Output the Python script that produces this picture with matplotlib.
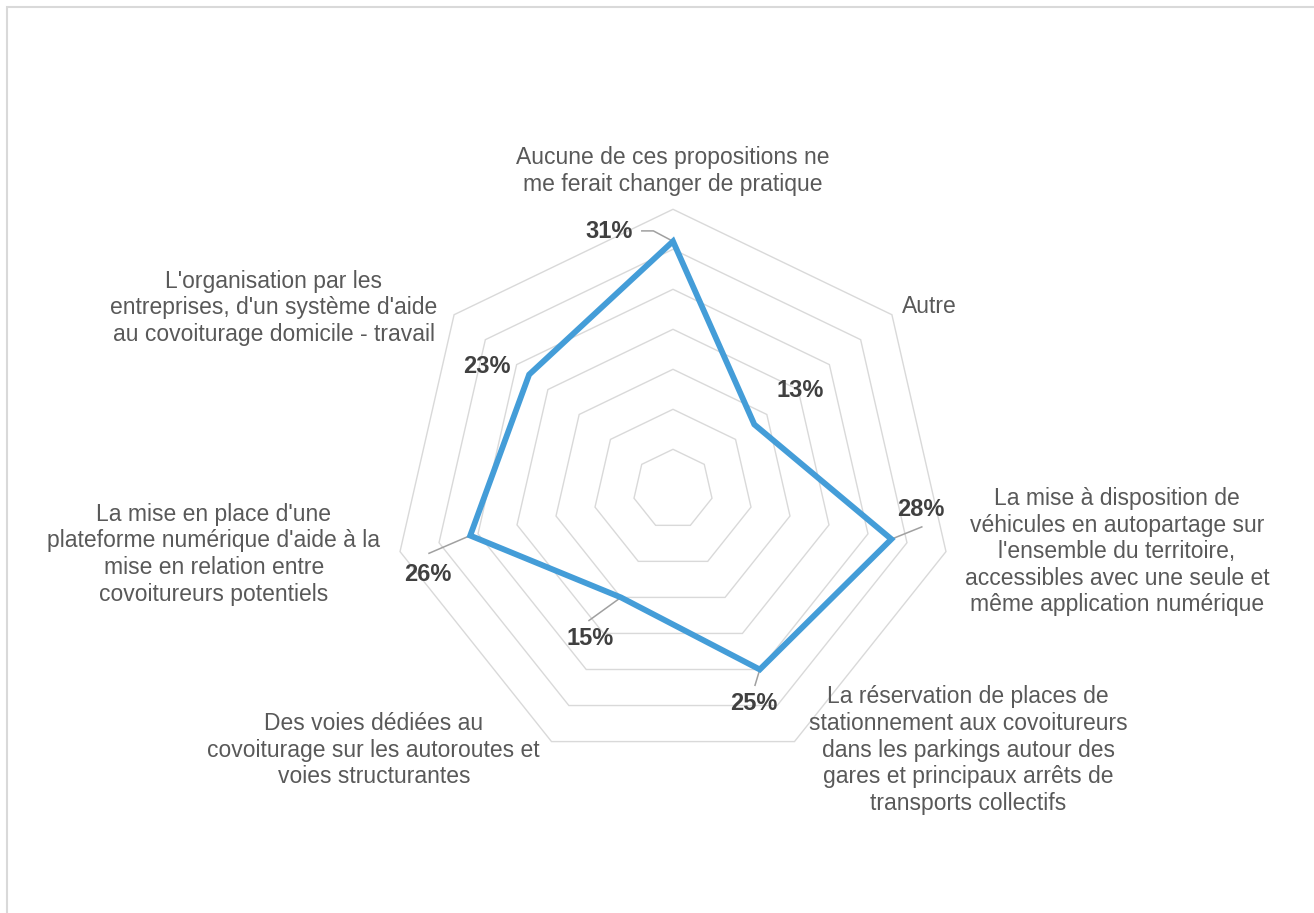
import numpy as np
import matplotlib

matplotlib.use("Agg")
import matplotlib.pyplot as plt
from matplotlib.patches import Polygon, Rectangle

plt.rcParams["font.family"] = ["Liberation Sans", "DejaVu Sans"]

# survey answers, clockwise from the top
categories = [
    "Aucune de ces propositions ne\nme ferait changer de pratique",
    "Autre",
    "La mise à disposition de\nvéhicules en autopartage sur\nl'ensemble du territoire,\naccessibles avec une seule et\nmême application numérique",
    "La réservation de places de\nstationnement aux covoitureurs\ndans les parkings autour des\ngares et principaux arrêts de\ntransports collectifs",
    "Des voies dédiées au\ncovoiturage sur les autoroutes et\nvoies structurantes",
    "La mise en place d'une\nplateforme numérique d'aide à la\nmise en relation entre\ncovoitureurs potentiels",
    "L'organisation par les\nentreprises, d'un système d'aide\nau covoiturage domicile - travail",
]
values = [31, 13, 28, 25, 15, 26, 23]
rings = [5, 10, 15, 20, 25, 30, 35]

# layout (in % units, 1 % = 8 px, origin at the radar centre)
cat_pos = [(0, 39.8), (32, 22.8), (55.5, -7.8), (36.9, -32.6),
           (-37.4, -32.6), (-57.4, -8.1), (-49.9, 22.7)]
val_pos = [(-8, 32.2), (15.9, 12.3), (31, -2.5), (10.1, -26.8),
           (-10.4, -18.6), (-30.6, -10.7), (-23.3, 15.3)]
# leader lines: points leading from label to the marker (None = no leader)
leaders = [[(-3.9, 32.3), (-2.45, 32.3)], None, [(31.1, -4.7)], [(10.25, -24.5)],
           [(-10.5, -16.4)], [(-30.5, -8.0)], None]

W, H = 1314, 913
CX, CY = 673, 489.3
SCALE = 8.0

fig = plt.figure(figsize=(W / 100, H / 100), dpi=100)
ax = fig.add_axes([0, 0, 1, 1])
ax.set_xlim(-CX / SCALE, (W - CX) / SCALE)
ax.set_ylim(-(H - CY) / SCALE, CY / SCALE)
ax.axis("off")

n = len(categories)
ang = np.arange(n) * 2 * np.pi / n
sx, sy = np.sin(ang), np.cos(ang)

for r in rings:
    ax.add_patch(Polygon(np.column_stack([r * sx, r * sy]), closed=True,
                         fill=False, edgecolor="#d9d9d9", lw=1.0, zorder=1))

v = np.array(values, dtype=float)
ax.add_patch(Polygon(np.column_stack([v * sx, v * sy]), closed=True, fill=False,
                     edgecolor="#449dd8", lw=4.2, joinstyle="miter", zorder=3))

for i, lab in enumerate(categories):
    ax.text(*cat_pos[i], lab, ha="center", va="center", fontsize=16.5,
            color="#595959", linespacing=1.2)

for i, val in enumerate(values):
    ax.text(*val_pos[i], f"{val}%", ha="center", va="center", fontsize=17,
            fontweight="bold", color="#404040")
    if leaders[i] is not None:
        pts = leaders[i] + [(val * sx[i], val * sy[i])]
        xs, ys = zip(*pts)
        ax.plot(xs, ys, color="#a0a0a0", lw=1.1, zorder=2)

fig.patches.append(Rectangle((7 / W, -0.1), 1.2, (H - 7) / H + 0.1,
                             transform=fig.transFigure, fill=False,
                             edgecolor="#d9d9d9", lw=1.5))

fig.savefig("out.png", dpi=100)
